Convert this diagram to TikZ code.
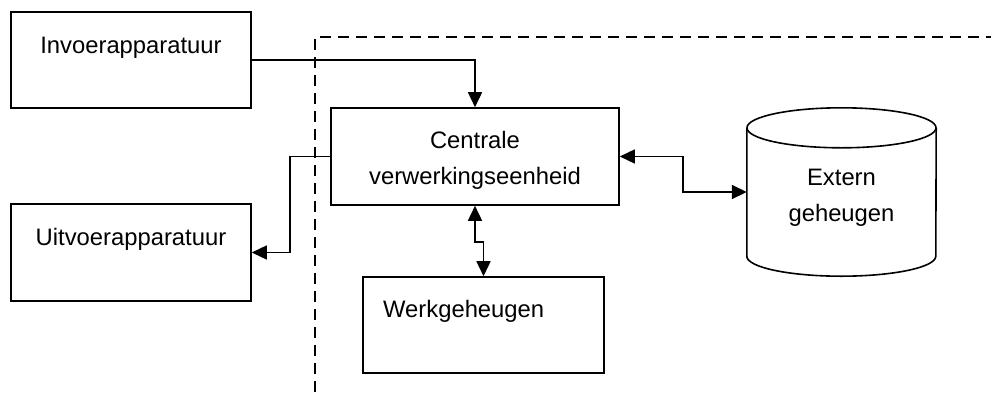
\documentclass[tikz,border=0pt]{standalone}
\usepackage{fontspec}
\setmainfont{Liberation Sans}
\usetikzlibrary{arrows.meta}
\tikzset{
  blok/.style={draw, line width=1.6pt, minimum width=240pt, minimum height=96pt, inner sep=0pt},
  lijn/.style={line width=1.6pt},
  tekst/.style={inner sep=0pt, anchor=base, font=\fontsize{23.8}{35.5}\selectfont, align=center},
  pijl/.style={line width=1.6pt, -{Triangle[length=15pt,width=14pt]}},
  dpijl/.style={line width=1.6pt, {Triangle[length=15pt,width=14pt]}-{Triangle[length=15pt,width=14pt]}}
}
\begin{document}
\begin{tikzpicture}[x=1pt,y=-1pt]
\useasboundingbox (0,0) rectangle (991,392);
% grens
\draw [lijn, dash pattern=on 11pt off 7pt] (315,392) -- (315,37) -- (991,37);
%
\node [blok] (inv) at (131,60) {};
\node [blok, minimum height=97pt] (uit) at (131,252.5) {};
\node [blok, minimum width=288pt, minimum height=97pt] (cve) at (475,156.5) {};
\node [blok, minimum width=241pt] (werk) at (483.5,325) {};
\node [minimum width=189pt, minimum height=168pt, inner sep=0pt] (ext) at (841.5,192) {};
%
\draw [lijn] ([yshift=-20pt]ext.north) ellipse [x radius=94.5pt, y radius=20pt];
\draw [lijn] ([yshift=-20pt]ext.north west) -- ([yshift=20pt]ext.south west)
  arc [start angle=180, end angle=360, x radius=94.5pt, y radius=20pt]
  -- ([yshift=-20pt]ext.north east);
%
\node [tekst] (inv-t) at (131,53) {Invoerapparatuur};
\node [tekst] (uit-t) at (131,245) {Uitvoerapparatuur};
\node [tekst] (cve-t) at (475,184) {Centrale\\verwerkingseenheid};
\node [tekst, anchor=base west] (werk-t) at (383,317) {Werkgeheugen};
\node [tekst] (ext-t) at (841.5,221) {Extern\\geheugen};
%
\draw [pijl] (inv.east) -| (cve.north);
\draw [pijl] (cve.west) -- ++(-40,0) |- (uit.east);
\draw [dpijl] (cve.east) -- ++(63,0) |- (ext.west);
\draw [dpijl] (cve.south) -- ++(0,36) -| (werk.north);
\end{tikzpicture}
\end{document}
